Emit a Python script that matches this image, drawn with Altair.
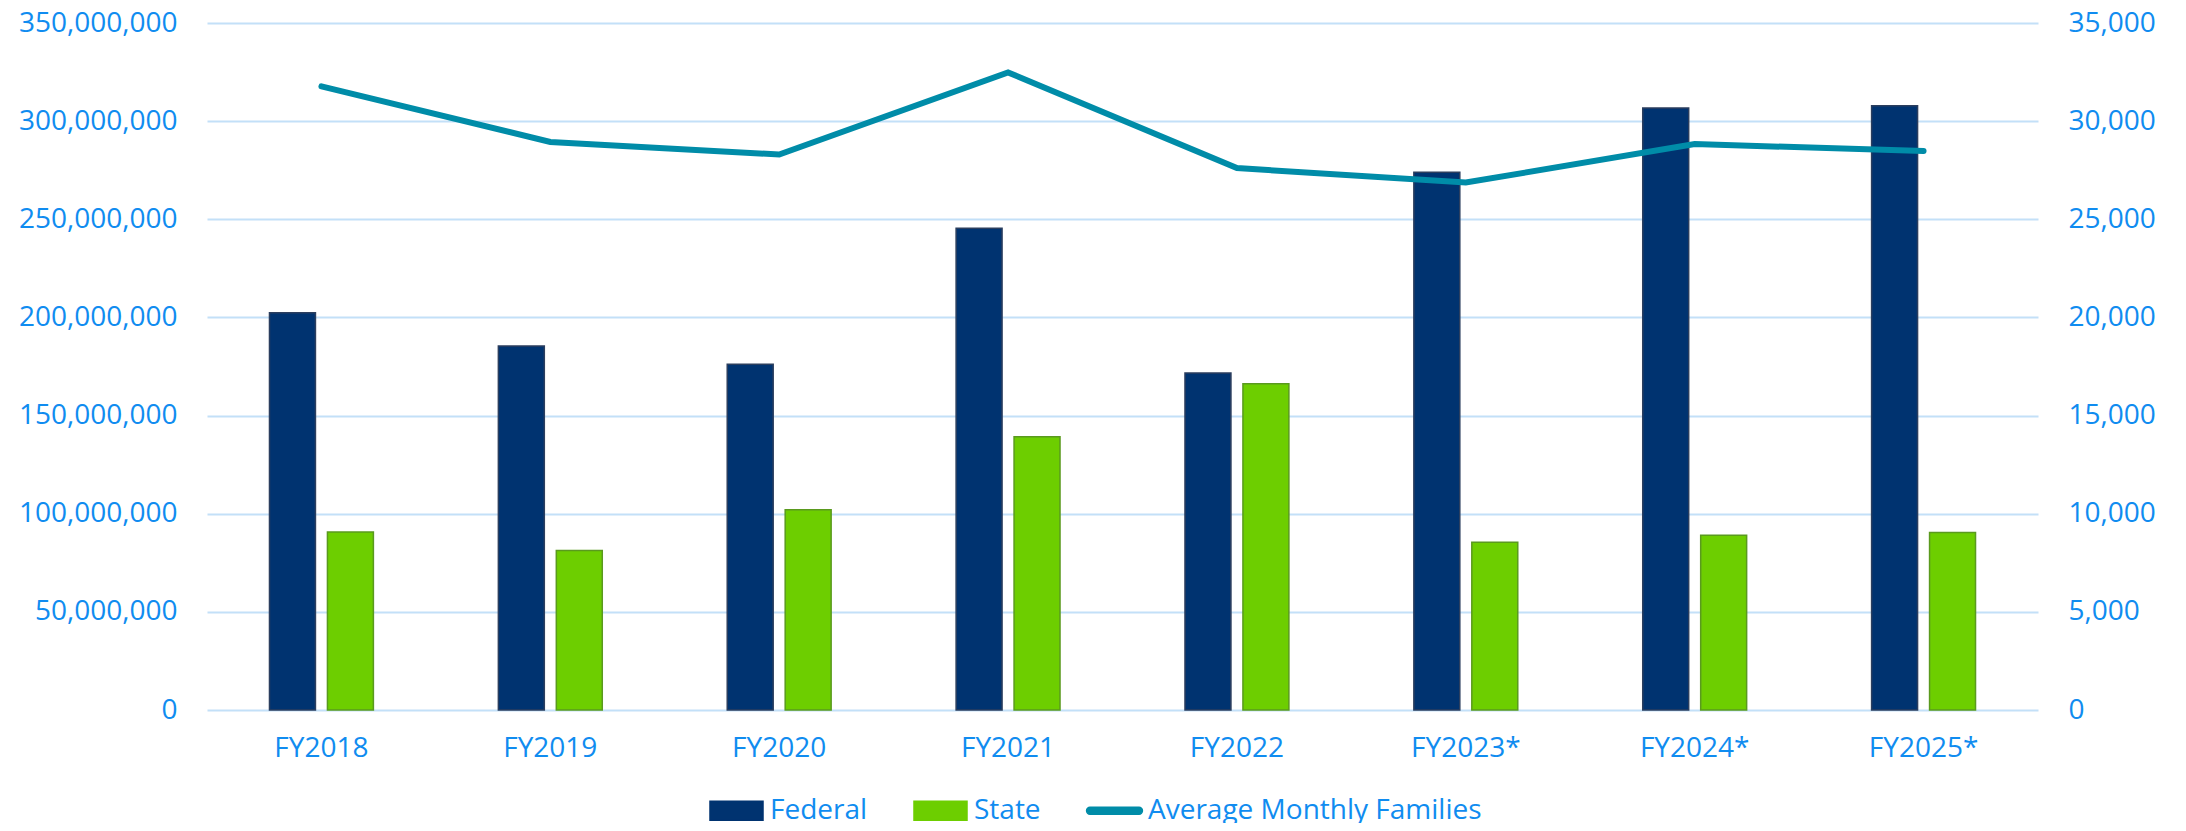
import altair as alt
import pandas as pd

# ---- data ----
years = ["FY2018", "FY2019", "FY2020", "FY2021", "FY2022", "FY2023*", "FY2024*", "FY2025*"]
federal = [202.4e6, 185.5e6, 176.1e6, 245.4e6, 171.7e6, 273.9e6, 306.7e6, 307.8e6]
state = [90.7e6, 81.2e6, 102.0e6, 139.2e6, 166.2e6, 85.4e6, 89.0e6, 90.4e6]
families = [31770, 28940, 28300, 32480, 27610, 26870, 28830, 28480]

series_names = ["Federal", "State", "Average Monthly Families"]
left_ticks = [0, 50e6, 100e6, 150e6, 200e6, 250e6, 300e6, 350e6]
right_ticks = [0, 5000, 10000, 15000, 20000, 25000, 30000, 35000]

# ---- styling ----
BLUE_TEXT = "#108CF0"
GRID = "#C3E0F8"
COLORS = ["#003370", "#6DCE00", "#008CA8"]
FONT = "Open Sans"

bars_df = pd.DataFrame({
    "year": years * 2,
    "series": ["Federal"] * len(years) + ["State"] * len(years),
    "amount": federal + state,
})
line_df = pd.DataFrame({
    "year": years,
    "series": ["Average Monthly Families"] * len(years),
    "families": families,
})

color_scale = alt.Scale(domain=series_names, range=COLORS)

LINE_SYM = "M-0.86,-0.12H0.86A0.12,0.12 0 0 1 0.86,0.12H-0.86A0.12,0.12 0 0 1 -0.86,-0.12Z"
BOX_SYM = "M-0.93,-0.333H0.93V0.333H-0.93Z"

legend = alt.Legend(
    orient="none", direction="horizontal", legendX=500, legendY=758,
    labelFontSize=28, labelColor=BLUE_TEXT, labelFont=FONT, labelOffset=4, labelLimit=0,
    symbolSize=3249, columnPadding=42, padding=0,
    symbolType=alt.ExprRef(expr=f"datum.value === 'Average Monthly Families' ? '{LINE_SYM}' : '{BOX_SYM}'"),
    symbolFillColor=alt.ExprRef(expr="datum.value === 'State' ? '#6DCE00' : (datum.value === 'Federal' ? '#003370' : '#008CA8')"),
    symbolStrokeColor=alt.ExprRef(expr="datum.value === 'State' ? '#5A9A1E' : (datum.value === 'Federal' ? '#2B3E5E' : '#008CA8')"),
    symbolStrokeWidth=1.5,
    symbolOpacity=1,
)

x_enc = alt.X(
    "year:N", sort=years, title=None,
    scale=alt.Scale(type="band", paddingInner=0.546, paddingOuter=0.273),
    axis=alt.Axis(labelAngle=0, labelFontSize=28, labelColor=BLUE_TEXT, labelFont=FONT,
                  labelPadding=24, domain=False, ticks=False, grid=False),
)

bars = alt.Chart(bars_df).mark_bar(strokeWidth=1.5).encode(
    x=x_enc,
    xOffset=alt.XOffset("series:N", sort=["Federal", "State"], scale=alt.Scale(paddingInner=0.207)),
    y=alt.Y("amount:Q", title=None, scale=alt.Scale(domain=[0, 350e6], nice=False),
            axis=alt.Axis(values=left_ticks, format=",d", labelFontSize=28, labelColor=BLUE_TEXT,
                          labelFont=FONT, labelPadding=30, domain=False, ticks=False,
                          grid=True, gridColor=GRID, gridWidth=2)),
    color=alt.Color("series:N", scale=color_scale, legend=legend, title=None),
    stroke=alt.Stroke("series:N", scale=alt.Scale(domain=["Federal", "State"], range=["#2B3E5E", "#5A9A1E"]), legend=None),
)

line = alt.Chart(line_df).mark_line(strokeWidth=6, strokeCap="round", strokeJoin="miter").encode(
    x=x_enc,
    y=alt.Y("families:Q", title=None, scale=alt.Scale(domain=[0, 35000], nice=False),
            axis=alt.Axis(orient="right", values=right_ticks, format=",d", labelFontSize=28,
                          labelColor=BLUE_TEXT, labelFont=FONT, labelPadding=30, domain=False,
                          ticks=False, grid=False)),
    color=alt.Color("series:N", scale=color_scale, legend=legend, title=None),
)

chart = alt.layer(bars, line).resolve_scale(y="independent").properties(
    width=1831, height=687,
    autosize=alt.AutoSizeParams(type="none"),
    padding={"left": 199, "top": 15, "right": 140, "bottom": 113},
    background="white",
).configure(font=FONT).configure_view(stroke=None)

chart.save("out.html", embed_options={"renderer": "svg", "actions": False})
